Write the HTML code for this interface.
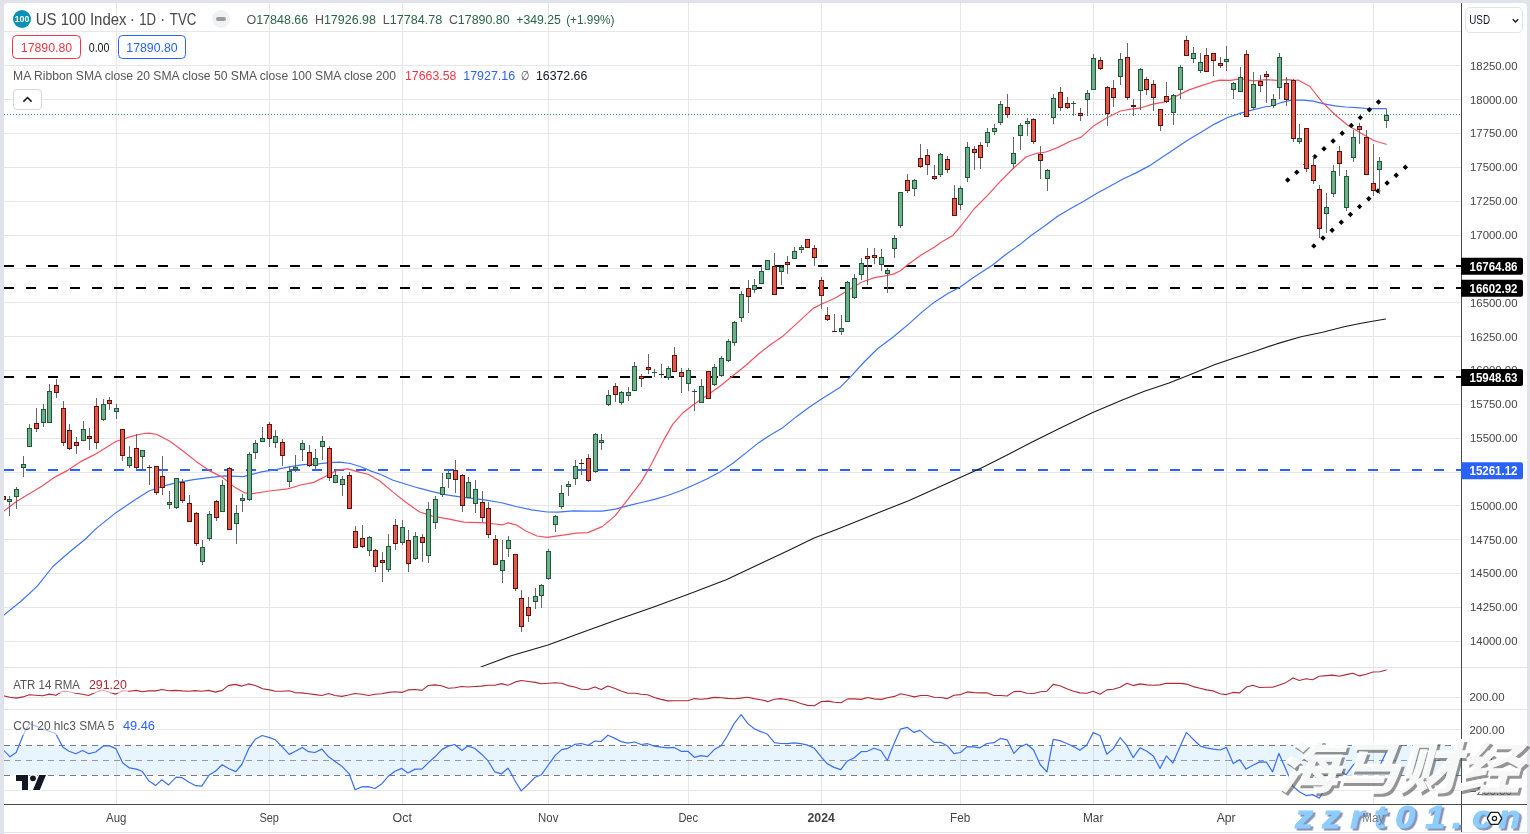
<!DOCTYPE html>
<html><head><meta charset="utf-8"><title>US 100 Index</title>
<style>
html,body{margin:0;padding:0}
body{width:1530px;height:834px;overflow:hidden;background:#e0e3eb;position:relative;font-family:"Liberation Sans","Noto Sans CJK SC",sans-serif}
#pane{position:absolute;left:4px;top:3px;width:1523px;height:829px;background:#fff;border-radius:4px 4px 0 0}
#pane2{position:absolute;left:4px;top:833px;width:1523px;height:1px;background:#fff}
.t{position:absolute;white-space:nowrap;line-height:1}
</style></head><body>
<div id="pane"></div><div id="pane2"></div>
<svg width="1530" height="834" viewBox="0 0 1530 834" style="position:absolute;left:0;top:0"><defs><clipPath id="cm"><rect x="4" y="3" width="1457" height="664"/></clipPath><clipPath id="ca"><rect x="4" y="668" width="1457" height="41"/></clipPath><clipPath id="cc"><rect x="4" y="710" width="1457" height="94"/></clipPath></defs><g stroke="#e7e7e7" stroke-width="1" shape-rendering="crispEdges"><line x1="116.5" y1="3" x2="116.5" y2="804"/><line x1="269.5" y1="3" x2="269.5" y2="804"/><line x1="402.5" y1="3" x2="402.5" y2="804"/><line x1="548.5" y1="3" x2="548.5" y2="804"/><line x1="688.5" y1="3" x2="688.5" y2="804"/><line x1="821.5" y1="3" x2="821.5" y2="804"/><line x1="960.5" y1="3" x2="960.5" y2="804"/><line x1="1093.5" y1="3" x2="1093.5" y2="804"/><line x1="1226.5" y1="3" x2="1226.5" y2="804"/><line x1="1373.5" y1="3" x2="1373.5" y2="804"/><line x1="4" y1="31.5" x2="1461" y2="31.5"/><line x1="4" y1="65.5" x2="1461" y2="65.5"/><line x1="4" y1="99.5" x2="1461" y2="99.5"/><line x1="4" y1="133.5" x2="1461" y2="133.5"/><line x1="4" y1="167.5" x2="1461" y2="167.5"/><line x1="4" y1="201.5" x2="1461" y2="201.5"/><line x1="4" y1="235.5" x2="1461" y2="235.5"/><line x1="4" y1="268.5" x2="1461" y2="268.5"/><line x1="4" y1="302.5" x2="1461" y2="302.5"/><line x1="4" y1="336.5" x2="1461" y2="336.5"/><line x1="4" y1="370.5" x2="1461" y2="370.5"/><line x1="4" y1="404.5" x2="1461" y2="404.5"/><line x1="4" y1="438.5" x2="1461" y2="438.5"/><line x1="4" y1="472.5" x2="1461" y2="472.5"/><line x1="4" y1="505.5" x2="1461" y2="505.5"/><line x1="4" y1="539.5" x2="1461" y2="539.5"/><line x1="4" y1="573.5" x2="1461" y2="573.5"/><line x1="4" y1="607.5" x2="1461" y2="607.5"/><line x1="4" y1="641.5" x2="1461" y2="641.5"/><line x1="4" y1="697.5" x2="1461" y2="697.5"/><line x1="4" y1="729.5" x2="1461" y2="729.5"/><line x1="4" y1="790.5" x2="1461" y2="790.5"/></g><rect x="4" y="745.5" width="1457" height="30" fill="#2196f3" fill-opacity="0.1"/><g stroke="#787b86" stroke-width="1" stroke-dasharray="6 5" shape-rendering="crispEdges"><line x1="4" y1="745.5" x2="1461" y2="745.5"/><line x1="4" y1="775.5" x2="1461" y2="775.5"/></g><line x1="4" y1="760.5" x2="1461" y2="760.5" stroke="#9598a1" stroke-width="1" stroke-dasharray="6 5" shape-rendering="crispEdges"/><g stroke="#e0e3eb" stroke-width="1" shape-rendering="crispEdges"><line x1="4" y1="667.5" x2="1527" y2="667.5"/><line x1="4" y1="709.5" x2="1527" y2="709.5"/></g><line x1="4" y1="114.5" x2="1461" y2="114.5" stroke="#3b8a5f" stroke-width="1" stroke-dasharray="1 2" shape-rendering="crispEdges"/><g stroke-width="2" stroke-dasharray="10 12" shape-rendering="crispEdges"><line x1="4" y1="266" x2="1461" y2="266" stroke="#000"/><line x1="4" y1="288" x2="1461" y2="288" stroke="#000"/><line x1="4" y1="377" x2="1461" y2="377" stroke="#000"/><line x1="4" y1="470" x2="1461" y2="470" stroke="#2962ff"/></g><g fill="none" stroke-linejoin="round" stroke-linecap="round"><path d="M481.0 666.9 L510.3 656.0 L548.0 645.0 L579.8 633.3 L616.4 620.1 L653.0 607.3 L689.6 593.7 L726.2 579.8 L762.8 562.6 L788.4 550.5 L814.1 538.1 L836.0 529.7 L872.6 515.0 L909.2 500.4 L945.8 483.9 L982.4 467.5 L1008.1 454.6 L1030.7 442.8 L1061.4 427.5 L1092.2 412.7 L1122.9 399.8 L1144.4 391.2 L1169.0 382.9 L1190.5 374.6 L1215.1 364.5 L1233.5 358.3 L1255.0 351.3 L1276.5 343.9 L1301.1 336.8 L1322.6 332.2 L1344.1 326.7 L1362.5 323.0 L1385.6 319.0" stroke="#1a1a1a" stroke-width="1.1" clip-path="url(#cm)"/><path d="M3.9 615.1 L21.6 600.8 L37.3 586.1 L52.9 566.5 L68.6 552.7 L84.3 540.0 L96.7 528.1 L116.3 512.4 L135.9 499.3 L149.0 491.0 L162.1 486.3 L177.8 482.4 L193.5 479.7 L209.2 477.6 L224.8 475.8 L243.1 476.6 L261.4 471.9 L277.1 469.3 L290.2 466.7 L303.3 464.6 L316.3 464.1 L329.4 462.7 L339.9 462.2 L350.3 463.5 L360.8 466.7 L371.2 471.1 L380.0 474.3 L393.1 480.3 L406.1 484.2 L419.2 488.2 L432.3 491.6 L448.0 495.2 L463.7 497.3 L484.6 499.9 L500.3 502.5 L515.9 506.5 L531.6 509.9 L547.3 512.0 L557.8 512.2 L573.5 510.9 L589.2 511.2 L602.2 511.2 L615.3 509.1 L628.4 505.7 L641.4 502.5 L654.5 499.4 L667.6 495.5 L680.7 490.8 L693.7 485.0 L706.8 479.0 L719.9 472.0 L732.9 463.3 L746.0 452.9 L759.1 442.4 L770.0 435.2 L783.1 427.4 L796.1 416.9 L809.2 407.3 L822.3 398.6 L840.6 386.9 L851.0 376.4 L864.1 362.0 L877.2 349.0 L892.9 337.2 L908.6 324.1 L921.6 312.4 L934.7 301.9 L947.8 293.5 L959.5 287.5 L972.7 278.0 L992.3 265.2 L1005.4 254.8 L1018.4 245.6 L1031.5 235.2 L1044.6 226.0 L1057.6 216.3 L1070.7 208.5 L1083.8 201.2 L1096.9 193.3 L1109.9 186.3 L1123.0 179.0 L1136.1 172.9 L1149.2 165.9 L1162.2 157.3 L1175.3 148.4 L1188.4 139.7 L1201.4 131.9 L1214.5 124.1 L1227.6 117.5 L1240.7 113.1 L1253.7 109.7 L1266.8 106.5 L1270.0 106.3 L1280.8 102.7 L1291.6 100.1 L1302.4 100.1 L1313.2 101.2 L1324.0 103.8 L1334.8 105.9 L1345.6 107.0 L1356.4 107.6 L1367.2 108.5 L1378.0 108.7 L1386.2 108.7" stroke="#3e73ff" stroke-width="1.2" clip-path="url(#cm)"/><path d="M3.9 511.1 L15.7 502.0 L28.8 494.1 L41.8 486.3 L54.9 477.1 L68.0 470.1 L81.0 461.4 L94.1 454.9 L104.6 448.4 L116.3 441.3 L130.7 436.6 L141.2 434.0 L149.0 433.2 L156.9 434.5 L169.9 441.3 L183.0 451.0 L196.1 461.4 L209.2 470.6 L222.2 477.1 L235.3 487.6 L244.4 492.8 L252.3 493.6 L269.3 491.0 L287.6 488.9 L300.7 485.0 L313.7 482.4 L326.8 475.8 L337.3 470.1 L347.7 468.8 L358.2 471.9 L368.6 474.5 L379.5 480.7 L393.1 492.1 L406.1 502.5 L419.2 511.7 L432.3 516.1 L448.0 518.8 L463.7 522.2 L484.6 522.9 L495.0 524.0 L502.9 524.8 L508.1 522.9 L515.9 524.8 L526.4 531.3 L536.9 536.0 L547.3 537.3 L563.0 535.2 L576.1 533.1 L587.8 532.6 L602.2 526.6 L615.3 515.6 L628.4 498.6 L641.4 481.6 L651.9 463.3 L662.4 442.4 L672.8 424.1 L683.3 412.4 L693.7 404.5 L706.8 395.4 L719.9 386.2 L732.9 375.8 L746.0 365.3 L759.1 353.5 L770.0 345.0 L783.1 335.9 L796.1 324.1 L813.1 308.4 L822.3 303.7 L835.4 298.0 L848.4 290.1 L861.5 282.3 L874.6 277.6 L885.0 275.8 L894.2 273.9 L900.7 270.5 L908.6 264.0 L921.6 254.8 L934.7 247.0 L940.0 243.0 L953.1 235.2 L960.9 226.0 L974.0 209.0 L987.1 195.9 L1000.1 181.6 L1013.2 168.5 L1026.3 156.7 L1036.7 153.3 L1045.9 152.0 L1057.6 147.6 L1070.7 141.0 L1081.2 137.1 L1094.2 125.4 L1107.3 117.5 L1120.4 111.0 L1130.8 109.2 L1141.3 107.8 L1151.8 104.4 L1164.8 101.8 L1175.3 96.6 L1188.4 90.1 L1201.4 85.6 L1211.9 82.2 L1219.7 80.1 L1230.2 80.4 L1240.7 78.8 L1253.7 80.9 L1266.8 79.6 L1277.3 80.4 L1287.7 79.6 L1295.6 80.4 L1298.1 80.0 L1309.9 86.5 L1321.8 101.6 L1334.8 114.5 L1347.7 125.3 L1360.7 132.9 L1373.6 140.5 L1386.2 144.3" stroke="#f4515f" stroke-width="1.2" clip-path="url(#cm)"/><path d="M4.3 696.0 L10.0 697.2 L16.2 698.1 L23.0 696.9 L29.3 694.8 L35.8 695.2 L42.6 695.7 L49.4 694.1 L55.8 695.2 L62.7 691.2 L69.0 691.8 L75.8 693.3 L82.6 694.3 L88.5 695.5 L95.4 692.4 L102.2 689.9 L109.0 692.1 L115.8 694.1 L122.6 690.7 L129.4 691.2 L136.2 690.4 L142.2 691.8 L149.0 690.9 L155.8 690.9 L161.8 689.5 L168.6 690.7 L175.4 690.4 L182.2 690.9 L189.0 691.2 L195.0 690.6 L201.8 691.2 L208.6 690.4 L215.4 692.1 L222.2 690.4 L228.2 685.6 L235.0 684.4 L241.8 686.1 L248.6 683.9 L255.2 685.5 L262.7 688.7 L269.5 689.9 L275.4 691.2 L282.2 691.2 L289.1 690.7 L295.0 692.6 L301.8 692.9 L308.6 693.8 L315.4 694.6 L321.9 695.5 L328.6 693.5 L335.0 695.5 L341.8 696.4 L348.6 695.0 L355.1 693.5 L361.9 694.3 L368.7 695.5 L375.0 694.3 L381.9 693.8 L388.7 692.4 L395.0 691.8 L401.8 692.4 L408.2 689.9 L415.1 689.5 L421.9 690.4 L428.2 685.5 L435.0 684.9 L441.4 685.8 L448.3 688.3 L455.1 687.8 L461.5 686.5 L468.2 687.0 L474.6 686.5 L481.5 686.1 L488.3 685.3 L495.1 685.3 L501.6 683.6 L507.9 685.3 L510.0 684.4 L515.4 681.9 L521.2 680.5 L528.7 681.5 L535.2 682.4 L541.5 683.8 L548.7 683.2 L555.1 682.7 L561.6 683.2 L567.9 685.6 L574.7 687.0 L581.2 689.2 L588.0 689.5 L594.8 687.0 L601.1 689.5 L607.9 686.1 L614.4 688.2 L621.2 690.9 L627.8 693.3 L634.6 693.3 L641.1 694.3 L647.6 694.8 L654.4 697.5 L661.2 699.4 L667.8 700.9 L674.3 700.8 L681.1 700.8 L687.9 700.8 L694.4 698.6 L701.0 699.2 L707.5 698.6 L714.3 697.4 L721.1 697.7 L727.6 698.4 L734.1 698.7 L740.7 698.1 L747.5 697.2 L754.0 698.6 L760.6 699.8 L765.0 700.6 L767.6 701.8 L774.4 699.2 L780.7 698.6 L787.5 699.8 L793.9 701.1 L800.8 703.5 L807.6 705.4 L814.4 705.7 L821.4 701.5 L828.0 701.1 L834.5 702.3 L841.1 702.7 L847.6 698.9 L854.4 698.9 L861.2 699.4 L867.7 697.5 L874.3 698.9 L881.1 699.4 L887.6 697.7 L894.4 696.4 L900.7 693.8 L907.5 695.2 L914.3 696.9 L920.8 695.5 L927.6 695.5 L934.1 697.2 L940.7 697.5 L947.4 698.6 L954.0 695.2 L960.8 694.6 L967.3 691.9 L974.1 692.6 L980.6 692.9 L987.2 692.9 L994.0 695.5 L1000.8 695.5 L1007.1 696.0 L1013.9 691.6 L1020.0 691.2 L1026.8 693.3 L1033.6 693.5 L1040.4 691.8 L1046.9 691.2 L1053.2 684.4 L1060.0 685.8 L1066.8 688.7 L1073.6 691.2 L1079.9 692.9 L1086.7 693.3 L1093.2 691.2 L1100.0 694.3 L1106.8 689.9 L1113.3 689.2 L1120.1 687.3 L1126.9 683.2 L1133.2 685.6 L1140.0 683.9 L1146.9 684.9 L1153.3 685.3 L1160.0 684.9 L1166.4 683.2 L1173.2 683.4 L1180.1 683.4 L1186.5 684.1 L1193.2 686.6 L1200.0 688.3 L1206.4 689.9 L1213.3 690.9 L1220.1 693.8 L1226.4 694.6 L1232.8 692.4 L1239.6 692.9 L1246.5 687.0 L1252.9 685.3 L1259.7 687.5 L1266.4 687.3 L1272.6 687.3 L1279.4 684.9 L1286.2 682.4 L1293.0 678.0 L1299.3 680.5 L1306.1 678.8 L1312.6 679.7 L1319.4 676.3 L1326.2 675.6 L1332.7 675.1 L1339.3 676.3 L1346.1 674.6 L1352.9 673.2 L1359.4 675.9 L1366.2 674.2 L1373.0 672.0 L1379.8 671.7 L1386.1 670.0" stroke="#b22833" stroke-width="1.1" clip-path="url(#ca)"/><path d="M4.3 750.8 L10.0 756.8 L16.2 752.5 L23.0 735.5 L29.3 723.6 L35.8 726.1 L42.6 728.7 L49.4 731.3 L55.8 733.8 L62.7 746.9 L69.0 751.2 L75.8 753.7 L82.6 750.5 L88.9 753.7 L95.7 752.0 L103.0 746.2 L109.0 745.6 L115.8 748.6 L122.6 762.8 L129.4 767.9 L136.2 769.1 L142.2 771.3 L149.0 781.1 L155.8 785.4 L161.8 779.8 L168.6 784.9 L176.2 777.2 L182.2 777.7 L189.0 782.3 L195.8 785.7 L201.8 786.1 L209.1 775.0 L215.4 771.3 L222.2 764.8 L229.0 768.7 L235.8 771.6 L241.8 764.5 L248.9 748.3 L255.2 739.3 L262.2 735.5 L269.5 737.6 L275.4 739.8 L282.2 746.9 L289.1 754.4 L295.4 751.2 L302.2 747.4 L308.6 751.7 L314.9 752.5 L321.9 749.1 L328.6 756.8 L335.0 761.4 L341.8 766.2 L349.2 773.8 L355.1 789.7 L361.9 786.9 L368.2 786.6 L375.0 788.5 L381.9 783.7 L388.7 775.9 L395.0 771.3 L401.8 768.4 L407.9 773.0 L415.1 769.1 L421.9 769.1 L428.2 762.8 L435.0 756.8 L441.8 749.6 L448.3 746.1 L454.7 744.5 L461.9 750.5 L467.8 746.1 L474.6 748.3 L481.5 754.2 L487.9 760.7 L494.7 771.8 L501.6 773.8 L507.9 768.2 L510.0 771.3 L515.4 781.5 L521.2 790.9 L528.7 783.7 L535.2 777.2 L541.5 774.7 L548.7 764.5 L555.1 755.6 L561.6 749.6 L567.9 748.3 L574.7 744.4 L581.2 743.5 L588.0 745.4 L594.8 741.1 L601.1 741.5 L607.9 735.2 L614.4 738.1 L621.2 741.6 L627.8 743.2 L634.6 742.0 L641.1 744.5 L647.6 743.7 L654.4 746.1 L661.2 747.1 L667.8 747.8 L674.3 747.4 L681.1 751.3 L687.9 751.3 L694.4 757.3 L701.0 755.6 L707.5 756.6 L714.3 749.6 L721.1 745.7 L727.6 735.5 L734.1 723.6 L741.1 714.6 L747.9 723.6 L754.3 728.7 L760.6 731.6 L765.0 733.0 L767.6 734.3 L774.4 742.7 L780.7 743.5 L787.5 743.7 L793.9 742.8 L800.8 743.7 L807.6 745.2 L814.4 748.3 L821.4 757.1 L827.1 763.6 L834.0 767.4 L840.8 769.6 L847.2 761.1 L853.9 758.0 L861.2 751.7 L867.2 751.3 L874.0 748.3 L881.1 750.8 L887.3 760.5 L893.9 744.0 L900.4 729.2 L907.2 727.3 L914.0 732.4 L919.9 730.4 L926.8 736.4 L933.9 742.3 L940.4 742.3 L947.2 745.7 L954.0 753.7 L960.5 752.5 L967.1 746.6 L973.6 746.9 L979.9 747.8 L986.9 743.5 L994.0 742.7 L1000.3 738.4 L1007.1 739.8 L1013.9 753.4 L1020.0 746.9 L1026.8 744.0 L1033.6 750.0 L1040.1 764.5 L1046.9 771.8 L1053.2 739.3 L1060.0 740.6 L1066.8 743.5 L1073.6 746.6 L1079.9 750.3 L1086.7 745.2 L1093.2 732.6 L1100.0 735.5 L1106.8 754.2 L1113.3 748.6 L1120.1 737.7 L1126.9 745.7 L1133.2 757.6 L1140.0 747.8 L1146.9 751.3 L1153.3 755.9 L1160.0 768.4 L1166.4 755.9 L1172.9 763.1 L1180.1 746.6 L1186.4 732.4 L1193.2 739.3 L1200.5 746.2 L1206.4 747.8 L1213.3 749.1 L1220.1 750.0 L1226.4 747.4 L1233.2 763.6 L1239.6 759.7 L1246.1 769.1 L1252.9 765.3 L1259.7 761.9 L1266.4 762.2 L1272.6 771.8 L1278.9 753.4 L1286.2 770.1 L1293.0 786.3 L1299.3 791.7 L1306.1 795.6 L1312.6 794.6 L1319.4 798.2 L1326.2 786.3 L1333.3 775.5 L1339.3 770.4 L1346.1 774.7 L1352.9 765.3 L1359.4 760.5 L1366.2 766.2 L1373.0 770.1 L1379.3 767.0 L1386.1 752.2" stroke="#3a6ff7" stroke-width="1.2" clip-path="url(#cc)"/></g><path d="M1285.0 180.0 L1287.7 177.3 L1290.4 180.0 L1287.7 182.7 ZM1294.1 172.2 L1296.8 169.5 L1299.5 172.2 L1296.8 174.9 ZM1303.2 164.4 L1305.9 161.7 L1308.6 164.4 L1305.9 167.1 ZM1312.2 156.6 L1314.9 153.9 L1317.6 156.6 L1314.9 159.3 ZM1321.3 148.8 L1324.0 146.1 L1326.7 148.8 L1324.0 151.5 ZM1330.4 141.0 L1333.1 138.3 L1335.8 141.0 L1333.1 143.7 ZM1339.5 133.2 L1342.2 130.5 L1344.9 133.2 L1342.2 135.9 ZM1348.6 125.4 L1351.3 122.7 L1354.0 125.4 L1351.3 128.1 ZM1357.6 117.6 L1360.3 114.9 L1363.0 117.6 L1360.3 120.3 ZM1366.7 109.8 L1369.4 107.1 L1372.1 109.8 L1369.4 112.5 ZM1375.8 102.0 L1378.5 99.3 L1381.2 102.0 L1378.5 104.7 ZM1311.1 245.9 L1313.8 243.2 L1316.5 245.9 L1313.8 248.6 ZM1320.3 238.0 L1323.0 235.3 L1325.7 238.0 L1323.0 240.7 ZM1329.4 230.2 L1332.1 227.5 L1334.8 230.2 L1332.1 232.9 ZM1338.6 222.3 L1341.3 219.6 L1344.0 222.3 L1341.3 225.0 ZM1347.7 214.5 L1350.4 211.8 L1353.1 214.5 L1350.4 217.2 ZM1356.9 206.6 L1359.6 203.9 L1362.3 206.6 L1359.6 209.3 ZM1366.1 198.7 L1368.8 196.0 L1371.5 198.7 L1368.8 201.4 ZM1375.2 190.9 L1377.9 188.2 L1380.6 190.9 L1377.9 193.6 ZM1384.4 183.0 L1387.1 180.3 L1389.8 183.0 L1387.1 185.7 ZM1393.5 175.2 L1396.2 172.5 L1398.9 175.2 L1396.2 177.9 ZM1402.7 167.3 L1405.4 164.6 L1408.1 167.3 L1405.4 170.0 Z" fill="#000"/><g clip-path="url(#cm)" shape-rendering="crispEdges"><rect x="3" y="496" width="1" height="4" fill="#666"/><rect x="1" y="496" width="5" height="4" fill="#5b130c"/><rect x="2" y="497" width="3" height="2" fill="#e2574a"/><rect x="9" y="496" width="1" height="20" fill="#666"/><rect x="7" y="499" width="5" height="3" fill="#1f5a36"/><rect x="8" y="500" width="3" height="1" fill="#6fae8d"/><rect x="16" y="487" width="1" height="22" fill="#666"/><rect x="14" y="489" width="5" height="8" fill="#1f5a36"/><rect x="15" y="490" width="3" height="6" fill="#6fae8d"/><rect x="23" y="456" width="1" height="21" fill="#666"/><rect x="21" y="464" width="5" height="4" fill="#1f5a36"/><rect x="22" y="465" width="3" height="2" fill="#6fae8d"/><rect x="29" y="424" width="1" height="23" fill="#666"/><rect x="27" y="428" width="5" height="19" fill="#1f5a36"/><rect x="28" y="429" width="3" height="17" fill="#6fae8d"/><rect x="36" y="408" width="1" height="24" fill="#666"/><rect x="34" y="423" width="5" height="6" fill="#5b130c"/><rect x="35" y="424" width="3" height="4" fill="#e2574a"/><rect x="43" y="404" width="1" height="23" fill="#666"/><rect x="41" y="409" width="5" height="14" fill="#1f5a36"/><rect x="42" y="410" width="3" height="12" fill="#6fae8d"/><rect x="49" y="384" width="1" height="39" fill="#666"/><rect x="47" y="391" width="5" height="32" fill="#1f5a36"/><rect x="48" y="392" width="3" height="30" fill="#6fae8d"/><rect x="56" y="379" width="1" height="19" fill="#666"/><rect x="54" y="385" width="5" height="8" fill="#5b130c"/><rect x="55" y="386" width="3" height="6" fill="#e2574a"/><rect x="63" y="401" width="1" height="45" fill="#666"/><rect x="61" y="408" width="5" height="35" fill="#5b130c"/><rect x="62" y="409" width="3" height="33" fill="#e2574a"/><rect x="69" y="424" width="1" height="26" fill="#666"/><rect x="67" y="430" width="5" height="19" fill="#5b130c"/><rect x="68" y="431" width="3" height="17" fill="#e2574a"/><rect x="76" y="437" width="1" height="17" fill="#666"/><rect x="74" y="442" width="5" height="4" fill="#5b130c"/><rect x="75" y="443" width="3" height="2" fill="#e2574a"/><rect x="83" y="421" width="1" height="20" fill="#666"/><rect x="81" y="429" width="5" height="12" fill="#1f5a36"/><rect x="82" y="430" width="3" height="10" fill="#6fae8d"/><rect x="89" y="428" width="1" height="22" fill="#666"/><rect x="87" y="436" width="5" height="3" fill="#5b130c"/><rect x="88" y="437" width="3" height="1" fill="#e2574a"/><rect x="96" y="398" width="1" height="51" fill="#666"/><rect x="94" y="406" width="5" height="37" fill="#5b130c"/><rect x="95" y="407" width="3" height="35" fill="#e2574a"/><rect x="103" y="399" width="1" height="22" fill="#666"/><rect x="101" y="404" width="5" height="16" fill="#1f5a36"/><rect x="102" y="405" width="3" height="14" fill="#6fae8d"/><rect x="109" y="397" width="1" height="13" fill="#666"/><rect x="107" y="400" width="5" height="4" fill="#5b130c"/><rect x="108" y="401" width="3" height="2" fill="#e2574a"/><rect x="116" y="404" width="1" height="15" fill="#666"/><rect x="114" y="408" width="5" height="4" fill="#1f5a36"/><rect x="115" y="409" width="3" height="2" fill="#6fae8d"/><rect x="122" y="429" width="1" height="32" fill="#666"/><rect x="120" y="429" width="5" height="27" fill="#5b130c"/><rect x="121" y="430" width="3" height="25" fill="#e2574a"/><rect x="129" y="446" width="1" height="22" fill="#666"/><rect x="127" y="457" width="5" height="9" fill="#1f5a36"/><rect x="128" y="458" width="3" height="7" fill="#6fae8d"/><rect x="136" y="434" width="1" height="35" fill="#666"/><rect x="134" y="448" width="5" height="20" fill="#5b130c"/><rect x="135" y="449" width="3" height="18" fill="#e2574a"/><rect x="142" y="450" width="1" height="19" fill="#666"/><rect x="140" y="450" width="5" height="7" fill="#1f5a36"/><rect x="141" y="451" width="3" height="5" fill="#6fae8d"/><rect x="149" y="465" width="1" height="20" fill="#666"/><rect x="147" y="467" width="5" height="1" fill="#5b130c"/><rect x="156" y="466" width="1" height="29" fill="#666"/><rect x="154" y="466" width="5" height="27" fill="#5b130c"/><rect x="155" y="467" width="3" height="25" fill="#e2574a"/><rect x="162" y="456" width="1" height="39" fill="#666"/><rect x="160" y="476" width="5" height="12" fill="#5b130c"/><rect x="161" y="477" width="3" height="10" fill="#e2574a"/><rect x="169" y="491" width="1" height="18" fill="#666"/><rect x="167" y="502" width="5" height="3" fill="#1f5a36"/><rect x="168" y="503" width="3" height="1" fill="#6fae8d"/><rect x="176" y="478" width="1" height="31" fill="#666"/><rect x="174" y="478" width="5" height="30" fill="#1f5a36"/><rect x="175" y="479" width="3" height="28" fill="#6fae8d"/><rect x="182" y="479" width="1" height="24" fill="#666"/><rect x="180" y="482" width="5" height="19" fill="#5b130c"/><rect x="181" y="483" width="3" height="17" fill="#e2574a"/><rect x="189" y="495" width="1" height="27" fill="#666"/><rect x="187" y="503" width="5" height="19" fill="#5b130c"/><rect x="188" y="504" width="3" height="17" fill="#e2574a"/><rect x="196" y="512" width="1" height="34" fill="#666"/><rect x="194" y="513" width="5" height="31" fill="#5b130c"/><rect x="195" y="514" width="3" height="29" fill="#e2574a"/><rect x="202" y="540" width="1" height="25" fill="#666"/><rect x="200" y="547" width="5" height="15" fill="#1f5a36"/><rect x="201" y="548" width="3" height="13" fill="#6fae8d"/><rect x="209" y="511" width="1" height="30" fill="#666"/><rect x="207" y="514" width="5" height="25" fill="#1f5a36"/><rect x="208" y="515" width="3" height="23" fill="#6fae8d"/><rect x="216" y="500" width="1" height="21" fill="#666"/><rect x="214" y="501" width="5" height="17" fill="#5b130c"/><rect x="215" y="502" width="3" height="15" fill="#e2574a"/><rect x="222" y="480" width="1" height="32" fill="#666"/><rect x="220" y="485" width="5" height="27" fill="#1f5a36"/><rect x="221" y="486" width="3" height="25" fill="#6fae8d"/><rect x="229" y="467" width="1" height="63" fill="#666"/><rect x="227" y="468" width="5" height="62" fill="#5b130c"/><rect x="228" y="469" width="3" height="60" fill="#e2574a"/><rect x="236" y="505" width="1" height="39" fill="#666"/><rect x="234" y="513" width="5" height="11" fill="#1f5a36"/><rect x="235" y="514" width="3" height="9" fill="#6fae8d"/><rect x="242" y="494" width="1" height="18" fill="#666"/><rect x="240" y="498" width="5" height="3" fill="#1f5a36"/><rect x="241" y="499" width="3" height="1" fill="#6fae8d"/><rect x="249" y="452" width="1" height="49" fill="#666"/><rect x="247" y="454" width="5" height="46" fill="#1f5a36"/><rect x="248" y="455" width="3" height="44" fill="#6fae8d"/><rect x="255" y="440" width="1" height="19" fill="#666"/><rect x="253" y="443" width="5" height="10" fill="#1f5a36"/><rect x="254" y="444" width="3" height="8" fill="#6fae8d"/><rect x="262" y="427" width="1" height="15" fill="#666"/><rect x="260" y="438" width="5" height="4" fill="#1f5a36"/><rect x="261" y="439" width="3" height="2" fill="#6fae8d"/><rect x="269" y="422" width="1" height="25" fill="#666"/><rect x="267" y="424" width="5" height="15" fill="#5b130c"/><rect x="268" y="425" width="3" height="13" fill="#e2574a"/><rect x="275" y="430" width="1" height="18" fill="#666"/><rect x="273" y="436" width="5" height="7" fill="#1f5a36"/><rect x="274" y="437" width="3" height="5" fill="#6fae8d"/><rect x="282" y="439" width="1" height="27" fill="#666"/><rect x="280" y="442" width="5" height="14" fill="#5b130c"/><rect x="281" y="443" width="3" height="12" fill="#e2574a"/><rect x="289" y="466" width="1" height="21" fill="#666"/><rect x="287" y="471" width="5" height="11" fill="#1f5a36"/><rect x="288" y="472" width="3" height="9" fill="#6fae8d"/><rect x="295" y="455" width="1" height="17" fill="#666"/><rect x="293" y="467" width="5" height="3" fill="#1f5a36"/><rect x="294" y="468" width="3" height="1" fill="#6fae8d"/><rect x="302" y="440" width="1" height="21" fill="#666"/><rect x="300" y="443" width="5" height="7" fill="#1f5a36"/><rect x="301" y="444" width="3" height="5" fill="#6fae8d"/><rect x="309" y="445" width="1" height="22" fill="#666"/><rect x="307" y="452" width="5" height="14" fill="#5b130c"/><rect x="308" y="453" width="3" height="12" fill="#e2574a"/><rect x="315" y="449" width="1" height="21" fill="#666"/><rect x="313" y="458" width="5" height="8" fill="#1f5a36"/><rect x="314" y="459" width="3" height="6" fill="#6fae8d"/><rect x="322" y="436" width="1" height="24" fill="#666"/><rect x="320" y="441" width="5" height="6" fill="#1f5a36"/><rect x="321" y="442" width="3" height="4" fill="#6fae8d"/><rect x="329" y="446" width="1" height="35" fill="#666"/><rect x="327" y="448" width="5" height="30" fill="#5b130c"/><rect x="328" y="449" width="3" height="28" fill="#e2574a"/><rect x="335" y="470" width="1" height="13" fill="#666"/><rect x="333" y="475" width="5" height="8" fill="#1f5a36"/><rect x="334" y="476" width="3" height="6" fill="#6fae8d"/><rect x="342" y="476" width="1" height="20" fill="#666"/><rect x="340" y="479" width="5" height="6" fill="#1f5a36"/><rect x="341" y="480" width="3" height="4" fill="#6fae8d"/><rect x="349" y="472" width="1" height="37" fill="#666"/><rect x="347" y="475" width="5" height="34" fill="#5b130c"/><rect x="348" y="476" width="3" height="32" fill="#e2574a"/><rect x="355" y="526" width="1" height="22" fill="#666"/><rect x="353" y="531" width="5" height="17" fill="#5b130c"/><rect x="354" y="532" width="3" height="15" fill="#e2574a"/><rect x="362" y="525" width="1" height="23" fill="#666"/><rect x="360" y="538" width="5" height="9" fill="#5b130c"/><rect x="361" y="539" width="3" height="7" fill="#e2574a"/><rect x="369" y="536" width="1" height="20" fill="#666"/><rect x="367" y="537" width="5" height="14" fill="#1f5a36"/><rect x="368" y="538" width="3" height="12" fill="#6fae8d"/><rect x="375" y="549" width="1" height="23" fill="#666"/><rect x="373" y="550" width="5" height="17" fill="#5b130c"/><rect x="374" y="551" width="3" height="15" fill="#e2574a"/><rect x="382" y="552" width="1" height="30" fill="#666"/><rect x="380" y="560" width="5" height="3" fill="#5b130c"/><rect x="381" y="561" width="3" height="1" fill="#e2574a"/><rect x="388" y="534" width="1" height="38" fill="#666"/><rect x="386" y="546" width="5" height="24" fill="#1f5a36"/><rect x="387" y="547" width="3" height="22" fill="#6fae8d"/><rect x="395" y="519" width="1" height="31" fill="#666"/><rect x="393" y="525" width="5" height="19" fill="#5b130c"/><rect x="394" y="526" width="3" height="17" fill="#e2574a"/><rect x="402" y="520" width="1" height="25" fill="#666"/><rect x="400" y="527" width="5" height="16" fill="#1f5a36"/><rect x="401" y="528" width="3" height="14" fill="#6fae8d"/><rect x="408" y="530" width="1" height="42" fill="#666"/><rect x="406" y="540" width="5" height="24" fill="#5b130c"/><rect x="407" y="541" width="3" height="22" fill="#e2574a"/><rect x="415" y="532" width="1" height="28" fill="#666"/><rect x="413" y="536" width="5" height="23" fill="#1f5a36"/><rect x="414" y="537" width="3" height="21" fill="#6fae8d"/><rect x="422" y="534" width="1" height="28" fill="#666"/><rect x="420" y="537" width="5" height="6" fill="#5b130c"/><rect x="421" y="538" width="3" height="4" fill="#e2574a"/><rect x="428" y="502" width="1" height="61" fill="#666"/><rect x="426" y="509" width="5" height="47" fill="#1f5a36"/><rect x="427" y="510" width="3" height="45" fill="#6fae8d"/><rect x="435" y="496" width="1" height="33" fill="#666"/><rect x="433" y="499" width="5" height="24" fill="#1f5a36"/><rect x="434" y="500" width="3" height="22" fill="#6fae8d"/><rect x="442" y="473" width="1" height="24" fill="#666"/><rect x="440" y="487" width="5" height="8" fill="#1f5a36"/><rect x="441" y="488" width="3" height="6" fill="#6fae8d"/><rect x="448" y="471" width="1" height="17" fill="#666"/><rect x="446" y="473" width="5" height="6" fill="#1f5a36"/><rect x="447" y="474" width="3" height="4" fill="#6fae8d"/><rect x="455" y="460" width="1" height="33" fill="#666"/><rect x="453" y="470" width="5" height="10" fill="#5b130c"/><rect x="454" y="471" width="3" height="8" fill="#e2574a"/><rect x="462" y="474" width="1" height="38" fill="#666"/><rect x="460" y="475" width="5" height="31" fill="#5b130c"/><rect x="461" y="476" width="3" height="29" fill="#e2574a"/><rect x="468" y="477" width="1" height="21" fill="#666"/><rect x="466" y="482" width="5" height="16" fill="#1f5a36"/><rect x="467" y="483" width="3" height="14" fill="#6fae8d"/><rect x="475" y="480" width="1" height="33" fill="#666"/><rect x="473" y="489" width="5" height="15" fill="#1f5a36"/><rect x="474" y="490" width="3" height="13" fill="#6fae8d"/><rect x="482" y="491" width="1" height="31" fill="#666"/><rect x="480" y="502" width="5" height="16" fill="#5b130c"/><rect x="481" y="503" width="3" height="14" fill="#e2574a"/><rect x="488" y="502" width="1" height="36" fill="#666"/><rect x="486" y="508" width="5" height="27" fill="#5b130c"/><rect x="487" y="509" width="3" height="25" fill="#e2574a"/><rect x="495" y="535" width="1" height="30" fill="#666"/><rect x="493" y="539" width="5" height="26" fill="#5b130c"/><rect x="494" y="540" width="3" height="24" fill="#e2574a"/><rect x="502" y="540" width="1" height="43" fill="#666"/><rect x="500" y="560" width="5" height="11" fill="#1f5a36"/><rect x="501" y="561" width="3" height="9" fill="#6fae8d"/><rect x="508" y="536" width="1" height="21" fill="#666"/><rect x="506" y="540" width="5" height="9" fill="#1f5a36"/><rect x="507" y="541" width="3" height="7" fill="#6fae8d"/><rect x="515" y="554" width="1" height="37" fill="#666"/><rect x="513" y="554" width="5" height="35" fill="#5b130c"/><rect x="514" y="555" width="3" height="33" fill="#e2574a"/><rect x="521" y="590" width="1" height="42" fill="#666"/><rect x="519" y="598" width="5" height="29" fill="#5b130c"/><rect x="520" y="599" width="3" height="27" fill="#e2574a"/><rect x="528" y="597" width="1" height="25" fill="#666"/><rect x="526" y="607" width="5" height="9" fill="#5b130c"/><rect x="527" y="608" width="3" height="7" fill="#e2574a"/><rect x="535" y="588" width="1" height="21" fill="#666"/><rect x="533" y="596" width="5" height="6" fill="#1f5a36"/><rect x="534" y="597" width="3" height="4" fill="#6fae8d"/><rect x="541" y="584" width="1" height="24" fill="#666"/><rect x="539" y="585" width="5" height="11" fill="#1f5a36"/><rect x="540" y="586" width="3" height="9" fill="#6fae8d"/><rect x="548" y="549" width="1" height="31" fill="#666"/><rect x="546" y="551" width="5" height="28" fill="#1f5a36"/><rect x="547" y="552" width="3" height="26" fill="#6fae8d"/><rect x="555" y="515" width="1" height="17" fill="#666"/><rect x="553" y="516" width="5" height="9" fill="#1f5a36"/><rect x="554" y="517" width="3" height="7" fill="#6fae8d"/><rect x="561" y="485" width="1" height="24" fill="#666"/><rect x="559" y="493" width="5" height="14" fill="#1f5a36"/><rect x="560" y="494" width="3" height="12" fill="#6fae8d"/><rect x="568" y="481" width="1" height="15" fill="#666"/><rect x="566" y="484" width="5" height="3" fill="#1f5a36"/><rect x="567" y="485" width="3" height="1" fill="#6fae8d"/><rect x="575" y="460" width="1" height="25" fill="#666"/><rect x="573" y="466" width="5" height="13" fill="#1f5a36"/><rect x="574" y="467" width="3" height="11" fill="#6fae8d"/><rect x="581" y="459" width="1" height="16" fill="#666"/><rect x="579" y="463" width="5" height="1" fill="#5b130c"/><rect x="588" y="454" width="1" height="28" fill="#666"/><rect x="586" y="458" width="5" height="23" fill="#5b130c"/><rect x="587" y="459" width="3" height="21" fill="#e2574a"/><rect x="595" y="433" width="1" height="40" fill="#666"/><rect x="593" y="434" width="5" height="38" fill="#1f5a36"/><rect x="594" y="435" width="3" height="36" fill="#6fae8d"/><rect x="601" y="434" width="1" height="16" fill="#666"/><rect x="599" y="440" width="5" height="3" fill="#1f5a36"/><rect x="600" y="441" width="3" height="1" fill="#6fae8d"/><rect x="608" y="390" width="1" height="16" fill="#666"/><rect x="606" y="395" width="5" height="10" fill="#1f5a36"/><rect x="607" y="396" width="3" height="8" fill="#6fae8d"/><rect x="615" y="383" width="1" height="19" fill="#666"/><rect x="613" y="386" width="5" height="9" fill="#5b130c"/><rect x="614" y="387" width="3" height="7" fill="#e2574a"/><rect x="621" y="391" width="1" height="14" fill="#666"/><rect x="619" y="392" width="5" height="11" fill="#1f5a36"/><rect x="620" y="393" width="3" height="9" fill="#6fae8d"/><rect x="628" y="387" width="1" height="14" fill="#666"/><rect x="626" y="392" width="5" height="4" fill="#1f5a36"/><rect x="627" y="393" width="3" height="2" fill="#6fae8d"/><rect x="634" y="362" width="1" height="29" fill="#666"/><rect x="632" y="366" width="5" height="25" fill="#1f5a36"/><rect x="633" y="367" width="3" height="23" fill="#6fae8d"/><rect x="641" y="374" width="1" height="13" fill="#666"/><rect x="639" y="376" width="5" height="3" fill="#5b130c"/><rect x="640" y="377" width="3" height="1" fill="#e2574a"/><rect x="648" y="354" width="1" height="20" fill="#666"/><rect x="646" y="367" width="5" height="3" fill="#5b130c"/><rect x="647" y="368" width="3" height="1" fill="#e2574a"/><rect x="654" y="369" width="1" height="8" fill="#666"/><rect x="652" y="372" width="5" height="1" fill="#1f5a36"/><rect x="661" y="364" width="1" height="14" fill="#666"/><rect x="659" y="374" width="5" height="1" fill="#5b130c"/><rect x="668" y="366" width="1" height="14" fill="#666"/><rect x="666" y="368" width="5" height="10" fill="#1f5a36"/><rect x="667" y="369" width="3" height="8" fill="#6fae8d"/><rect x="674" y="347" width="1" height="25" fill="#666"/><rect x="672" y="355" width="5" height="17" fill="#5b130c"/><rect x="673" y="356" width="3" height="15" fill="#e2574a"/><rect x="681" y="368" width="1" height="25" fill="#666"/><rect x="679" y="372" width="5" height="5" fill="#5b130c"/><rect x="680" y="373" width="3" height="3" fill="#e2574a"/><rect x="688" y="368" width="1" height="23" fill="#666"/><rect x="686" y="370" width="5" height="14" fill="#1f5a36"/><rect x="687" y="371" width="3" height="12" fill="#6fae8d"/><rect x="694" y="389" width="1" height="22" fill="#666"/><rect x="692" y="391" width="5" height="1" fill="#1f5a36"/><rect x="701" y="379" width="1" height="24" fill="#666"/><rect x="699" y="386" width="5" height="17" fill="#1f5a36"/><rect x="700" y="387" width="3" height="15" fill="#6fae8d"/><rect x="708" y="371" width="1" height="28" fill="#666"/><rect x="706" y="371" width="5" height="28" fill="#5b130c"/><rect x="707" y="372" width="3" height="26" fill="#e2574a"/><rect x="714" y="364" width="1" height="22" fill="#666"/><rect x="712" y="367" width="5" height="18" fill="#1f5a36"/><rect x="713" y="368" width="3" height="16" fill="#6fae8d"/><rect x="721" y="356" width="1" height="21" fill="#666"/><rect x="719" y="358" width="5" height="18" fill="#1f5a36"/><rect x="720" y="359" width="3" height="16" fill="#6fae8d"/><rect x="728" y="339" width="1" height="23" fill="#666"/><rect x="726" y="341" width="5" height="20" fill="#1f5a36"/><rect x="727" y="342" width="3" height="18" fill="#6fae8d"/><rect x="734" y="321" width="1" height="25" fill="#666"/><rect x="732" y="322" width="5" height="21" fill="#1f5a36"/><rect x="733" y="323" width="3" height="19" fill="#6fae8d"/><rect x="741" y="291" width="1" height="31" fill="#666"/><rect x="739" y="294" width="5" height="24" fill="#1f5a36"/><rect x="740" y="295" width="3" height="22" fill="#6fae8d"/><rect x="748" y="280" width="1" height="33" fill="#666"/><rect x="746" y="288" width="5" height="9" fill="#5b130c"/><rect x="747" y="289" width="3" height="7" fill="#e2574a"/><rect x="754" y="279" width="1" height="14" fill="#666"/><rect x="752" y="285" width="5" height="5" fill="#1f5a36"/><rect x="753" y="286" width="3" height="3" fill="#6fae8d"/><rect x="761" y="266" width="1" height="18" fill="#666"/><rect x="759" y="271" width="5" height="13" fill="#1f5a36"/><rect x="760" y="272" width="3" height="11" fill="#6fae8d"/><rect x="767" y="260" width="1" height="10" fill="#666"/><rect x="765" y="260" width="5" height="10" fill="#1f5a36"/><rect x="766" y="261" width="3" height="8" fill="#6fae8d"/><rect x="774" y="253" width="1" height="42" fill="#666"/><rect x="772" y="266" width="5" height="29" fill="#5b130c"/><rect x="773" y="267" width="3" height="27" fill="#e2574a"/><rect x="781" y="266" width="1" height="19" fill="#666"/><rect x="779" y="267" width="5" height="5" fill="#1f5a36"/><rect x="780" y="268" width="3" height="3" fill="#6fae8d"/><rect x="787" y="256" width="1" height="18" fill="#666"/><rect x="785" y="262" width="5" height="3" fill="#5b130c"/><rect x="786" y="263" width="3" height="1" fill="#e2574a"/><rect x="794" y="247" width="1" height="12" fill="#666"/><rect x="792" y="251" width="5" height="8" fill="#1f5a36"/><rect x="793" y="252" width="3" height="6" fill="#6fae8d"/><rect x="801" y="245" width="1" height="8" fill="#666"/><rect x="799" y="247" width="5" height="3" fill="#1f5a36"/><rect x="800" y="248" width="3" height="1" fill="#6fae8d"/><rect x="807" y="239" width="1" height="9" fill="#666"/><rect x="805" y="239" width="5" height="9" fill="#5b130c"/><rect x="806" y="240" width="3" height="7" fill="#e2574a"/><rect x="814" y="245" width="1" height="21" fill="#666"/><rect x="812" y="248" width="5" height="10" fill="#5b130c"/><rect x="813" y="249" width="3" height="8" fill="#e2574a"/><rect x="821" y="277" width="1" height="32" fill="#666"/><rect x="819" y="280" width="5" height="16" fill="#5b130c"/><rect x="820" y="281" width="3" height="14" fill="#e2574a"/><rect x="827" y="307" width="1" height="14" fill="#666"/><rect x="825" y="315" width="5" height="5" fill="#5b130c"/><rect x="826" y="316" width="3" height="3" fill="#e2574a"/><rect x="834" y="314" width="1" height="18" fill="#666"/><rect x="832" y="331" width="5" height="1" fill="#5b130c"/><rect x="841" y="315" width="1" height="20" fill="#666"/><rect x="839" y="328" width="5" height="4" fill="#1f5a36"/><rect x="840" y="329" width="3" height="2" fill="#6fae8d"/><rect x="847" y="281" width="1" height="41" fill="#666"/><rect x="845" y="282" width="5" height="40" fill="#1f5a36"/><rect x="846" y="283" width="3" height="38" fill="#6fae8d"/><rect x="854" y="274" width="1" height="25" fill="#666"/><rect x="852" y="278" width="5" height="20" fill="#1f5a36"/><rect x="853" y="279" width="3" height="18" fill="#6fae8d"/><rect x="861" y="258" width="1" height="22" fill="#666"/><rect x="859" y="263" width="5" height="12" fill="#1f5a36"/><rect x="860" y="264" width="3" height="10" fill="#6fae8d"/><rect x="867" y="248" width="1" height="37" fill="#666"/><rect x="865" y="256" width="5" height="3" fill="#5b130c"/><rect x="866" y="257" width="3" height="1" fill="#e2574a"/><rect x="874" y="248" width="1" height="16" fill="#666"/><rect x="872" y="255" width="5" height="3" fill="#5b130c"/><rect x="873" y="256" width="3" height="1" fill="#e2574a"/><rect x="881" y="249" width="1" height="22" fill="#666"/><rect x="879" y="257" width="5" height="8" fill="#1f5a36"/><rect x="880" y="258" width="3" height="6" fill="#6fae8d"/><rect x="887" y="268" width="1" height="25" fill="#666"/><rect x="885" y="270" width="5" height="4" fill="#1f5a36"/><rect x="886" y="271" width="3" height="2" fill="#6fae8d"/><rect x="894" y="235" width="1" height="23" fill="#666"/><rect x="892" y="238" width="5" height="11" fill="#1f5a36"/><rect x="893" y="239" width="3" height="9" fill="#6fae8d"/><rect x="900" y="192" width="1" height="36" fill="#666"/><rect x="898" y="192" width="5" height="34" fill="#1f5a36"/><rect x="899" y="193" width="3" height="32" fill="#6fae8d"/><rect x="907" y="174" width="1" height="19" fill="#666"/><rect x="905" y="180" width="5" height="11" fill="#5b130c"/><rect x="906" y="181" width="3" height="9" fill="#e2574a"/><rect x="914" y="179" width="1" height="17" fill="#666"/><rect x="912" y="180" width="5" height="9" fill="#1f5a36"/><rect x="913" y="181" width="3" height="7" fill="#6fae8d"/><rect x="920" y="144" width="1" height="24" fill="#666"/><rect x="918" y="158" width="5" height="9" fill="#5b130c"/><rect x="919" y="159" width="3" height="7" fill="#e2574a"/><rect x="927" y="149" width="1" height="26" fill="#666"/><rect x="925" y="155" width="5" height="10" fill="#5b130c"/><rect x="926" y="156" width="3" height="8" fill="#e2574a"/><rect x="934" y="165" width="1" height="15" fill="#666"/><rect x="932" y="176" width="5" height="3" fill="#5b130c"/><rect x="933" y="177" width="3" height="1" fill="#e2574a"/><rect x="940" y="153" width="1" height="24" fill="#666"/><rect x="938" y="154" width="5" height="21" fill="#1f5a36"/><rect x="939" y="155" width="3" height="19" fill="#6fae8d"/><rect x="947" y="156" width="1" height="17" fill="#666"/><rect x="945" y="159" width="5" height="11" fill="#5b130c"/><rect x="946" y="160" width="3" height="9" fill="#e2574a"/><rect x="954" y="185" width="1" height="31" fill="#666"/><rect x="952" y="198" width="5" height="18" fill="#5b130c"/><rect x="953" y="199" width="3" height="16" fill="#e2574a"/><rect x="960" y="186" width="1" height="24" fill="#666"/><rect x="958" y="188" width="5" height="17" fill="#1f5a36"/><rect x="959" y="189" width="3" height="15" fill="#6fae8d"/><rect x="967" y="142" width="1" height="40" fill="#666"/><rect x="965" y="147" width="5" height="31" fill="#1f5a36"/><rect x="966" y="148" width="3" height="29" fill="#6fae8d"/><rect x="974" y="146" width="1" height="24" fill="#666"/><rect x="972" y="149" width="5" height="4" fill="#5b130c"/><rect x="973" y="150" width="3" height="2" fill="#e2574a"/><rect x="980" y="142" width="1" height="27" fill="#666"/><rect x="978" y="145" width="5" height="13" fill="#5b130c"/><rect x="979" y="146" width="3" height="11" fill="#e2574a"/><rect x="987" y="128" width="1" height="19" fill="#666"/><rect x="985" y="132" width="5" height="11" fill="#1f5a36"/><rect x="986" y="133" width="3" height="9" fill="#6fae8d"/><rect x="994" y="124" width="1" height="11" fill="#666"/><rect x="992" y="128" width="5" height="4" fill="#1f5a36"/><rect x="993" y="129" width="3" height="2" fill="#6fae8d"/><rect x="1000" y="101" width="1" height="24" fill="#666"/><rect x="998" y="104" width="5" height="19" fill="#1f5a36"/><rect x="999" y="105" width="3" height="17" fill="#6fae8d"/><rect x="1007" y="94" width="1" height="24" fill="#666"/><rect x="1005" y="107" width="5" height="8" fill="#5b130c"/><rect x="1006" y="108" width="3" height="6" fill="#e2574a"/><rect x="1013" y="137" width="1" height="32" fill="#666"/><rect x="1011" y="153" width="5" height="11" fill="#1f5a36"/><rect x="1012" y="154" width="3" height="9" fill="#6fae8d"/><rect x="1020" y="123" width="1" height="27" fill="#666"/><rect x="1018" y="125" width="5" height="11" fill="#1f5a36"/><rect x="1019" y="126" width="3" height="9" fill="#6fae8d"/><rect x="1027" y="118" width="1" height="18" fill="#666"/><rect x="1025" y="121" width="5" height="3" fill="#1f5a36"/><rect x="1026" y="122" width="3" height="1" fill="#6fae8d"/><rect x="1033" y="118" width="1" height="26" fill="#666"/><rect x="1031" y="119" width="5" height="23" fill="#5b130c"/><rect x="1032" y="120" width="3" height="21" fill="#e2574a"/><rect x="1040" y="146" width="1" height="33" fill="#666"/><rect x="1038" y="154" width="5" height="7" fill="#5b130c"/><rect x="1039" y="155" width="3" height="5" fill="#e2574a"/><rect x="1047" y="169" width="1" height="22" fill="#666"/><rect x="1045" y="170" width="5" height="9" fill="#1f5a36"/><rect x="1046" y="171" width="3" height="7" fill="#6fae8d"/><rect x="1053" y="94" width="1" height="30" fill="#666"/><rect x="1051" y="98" width="5" height="20" fill="#1f5a36"/><rect x="1052" y="99" width="3" height="18" fill="#6fae8d"/><rect x="1060" y="87" width="1" height="24" fill="#666"/><rect x="1058" y="92" width="5" height="16" fill="#5b130c"/><rect x="1059" y="93" width="3" height="14" fill="#e2574a"/><rect x="1067" y="97" width="1" height="12" fill="#666"/><rect x="1065" y="103" width="5" height="5" fill="#5b130c"/><rect x="1066" y="104" width="3" height="3" fill="#e2574a"/><rect x="1073" y="101" width="1" height="15" fill="#666"/><rect x="1071" y="103" width="5" height="1" fill="#1f5a36"/><rect x="1080" y="108" width="1" height="13" fill="#666"/><rect x="1078" y="113" width="5" height="3" fill="#5b130c"/><rect x="1079" y="114" width="3" height="1" fill="#e2574a"/><rect x="1087" y="90" width="1" height="26" fill="#666"/><rect x="1085" y="93" width="5" height="7" fill="#1f5a36"/><rect x="1086" y="94" width="3" height="5" fill="#6fae8d"/><rect x="1093" y="54" width="1" height="36" fill="#666"/><rect x="1091" y="58" width="5" height="32" fill="#1f5a36"/><rect x="1092" y="59" width="3" height="30" fill="#6fae8d"/><rect x="1100" y="57" width="1" height="13" fill="#666"/><rect x="1098" y="60" width="5" height="9" fill="#5b130c"/><rect x="1099" y="61" width="3" height="7" fill="#e2574a"/><rect x="1107" y="86" width="1" height="40" fill="#666"/><rect x="1105" y="87" width="5" height="27" fill="#5b130c"/><rect x="1106" y="88" width="3" height="25" fill="#e2574a"/><rect x="1113" y="80" width="1" height="27" fill="#666"/><rect x="1111" y="88" width="5" height="10" fill="#5b130c"/><rect x="1112" y="89" width="3" height="8" fill="#e2574a"/><rect x="1120" y="53" width="1" height="32" fill="#666"/><rect x="1118" y="59" width="5" height="18" fill="#1f5a36"/><rect x="1119" y="60" width="3" height="16" fill="#6fae8d"/><rect x="1127" y="43" width="1" height="57" fill="#666"/><rect x="1125" y="57" width="5" height="41" fill="#5b130c"/><rect x="1126" y="58" width="3" height="39" fill="#e2574a"/><rect x="1133" y="99" width="1" height="17" fill="#666"/><rect x="1131" y="105" width="5" height="2" fill="#5b130c"/><rect x="1140" y="68" width="1" height="42" fill="#666"/><rect x="1138" y="69" width="5" height="22" fill="#1f5a36"/><rect x="1139" y="70" width="3" height="20" fill="#6fae8d"/><rect x="1146" y="77" width="1" height="18" fill="#666"/><rect x="1144" y="79" width="5" height="11" fill="#5b130c"/><rect x="1145" y="80" width="3" height="9" fill="#e2574a"/><rect x="1153" y="80" width="1" height="31" fill="#666"/><rect x="1151" y="84" width="5" height="14" fill="#5b130c"/><rect x="1152" y="85" width="3" height="12" fill="#e2574a"/><rect x="1160" y="109" width="1" height="22" fill="#666"/><rect x="1158" y="109" width="5" height="17" fill="#5b130c"/><rect x="1159" y="110" width="3" height="15" fill="#e2574a"/><rect x="1166" y="82" width="1" height="21" fill="#666"/><rect x="1164" y="96" width="5" height="6" fill="#5b130c"/><rect x="1165" y="97" width="3" height="4" fill="#e2574a"/><rect x="1173" y="94" width="1" height="31" fill="#666"/><rect x="1171" y="95" width="5" height="18" fill="#1f5a36"/><rect x="1172" y="96" width="3" height="16" fill="#6fae8d"/><rect x="1180" y="65" width="1" height="34" fill="#666"/><rect x="1178" y="67" width="5" height="23" fill="#1f5a36"/><rect x="1179" y="68" width="3" height="21" fill="#6fae8d"/><rect x="1186" y="36" width="1" height="20" fill="#666"/><rect x="1184" y="40" width="5" height="16" fill="#5b130c"/><rect x="1185" y="41" width="3" height="14" fill="#e2574a"/><rect x="1193" y="47" width="1" height="16" fill="#666"/><rect x="1191" y="53" width="5" height="6" fill="#1f5a36"/><rect x="1192" y="54" width="3" height="4" fill="#6fae8d"/><rect x="1200" y="53" width="1" height="20" fill="#666"/><rect x="1198" y="62" width="5" height="9" fill="#1f5a36"/><rect x="1199" y="63" width="3" height="7" fill="#6fae8d"/><rect x="1206" y="48" width="1" height="24" fill="#666"/><rect x="1204" y="55" width="5" height="17" fill="#5b130c"/><rect x="1205" y="56" width="3" height="15" fill="#e2574a"/><rect x="1213" y="53" width="1" height="23" fill="#666"/><rect x="1211" y="53" width="5" height="8" fill="#5b130c"/><rect x="1212" y="54" width="3" height="6" fill="#e2574a"/><rect x="1220" y="57" width="1" height="11" fill="#666"/><rect x="1218" y="63" width="5" height="3" fill="#5b130c"/><rect x="1219" y="64" width="3" height="1" fill="#e2574a"/><rect x="1226" y="46" width="1" height="25" fill="#666"/><rect x="1224" y="59" width="5" height="3" fill="#1f5a36"/><rect x="1225" y="60" width="3" height="1" fill="#6fae8d"/><rect x="1233" y="82" width="1" height="17" fill="#666"/><rect x="1231" y="83" width="5" height="7" fill="#1f5a36"/><rect x="1232" y="84" width="3" height="5" fill="#6fae8d"/><rect x="1240" y="67" width="1" height="25" fill="#666"/><rect x="1238" y="77" width="5" height="15" fill="#1f5a36"/><rect x="1239" y="78" width="3" height="13" fill="#6fae8d"/><rect x="1246" y="50" width="1" height="67" fill="#666"/><rect x="1244" y="54" width="5" height="63" fill="#5b130c"/><rect x="1245" y="55" width="3" height="61" fill="#e2574a"/><rect x="1253" y="72" width="1" height="38" fill="#666"/><rect x="1251" y="84" width="5" height="24" fill="#1f5a36"/><rect x="1252" y="85" width="3" height="22" fill="#6fae8d"/><rect x="1260" y="75" width="1" height="17" fill="#666"/><rect x="1258" y="81" width="5" height="5" fill="#5b130c"/><rect x="1259" y="82" width="3" height="3" fill="#e2574a"/><rect x="1266" y="71" width="1" height="32" fill="#666"/><rect x="1264" y="74" width="5" height="3" fill="#5b130c"/><rect x="1265" y="75" width="3" height="1" fill="#e2574a"/><rect x="1273" y="94" width="1" height="14" fill="#666"/><rect x="1271" y="99" width="5" height="7" fill="#1f5a36"/><rect x="1272" y="100" width="3" height="5" fill="#6fae8d"/><rect x="1279" y="53" width="1" height="46" fill="#666"/><rect x="1277" y="57" width="5" height="31" fill="#1f5a36"/><rect x="1278" y="58" width="3" height="29" fill="#6fae8d"/><rect x="1286" y="77" width="1" height="29" fill="#666"/><rect x="1284" y="83" width="5" height="17" fill="#5b130c"/><rect x="1285" y="84" width="3" height="15" fill="#e2574a"/><rect x="1293" y="79" width="1" height="63" fill="#666"/><rect x="1291" y="80" width="5" height="59" fill="#5b130c"/><rect x="1292" y="81" width="3" height="57" fill="#e2574a"/><rect x="1299" y="124" width="1" height="20" fill="#666"/><rect x="1297" y="138" width="5" height="4" fill="#1f5a36"/><rect x="1298" y="139" width="3" height="2" fill="#6fae8d"/><rect x="1306" y="128" width="1" height="44" fill="#666"/><rect x="1304" y="128" width="5" height="41" fill="#5b130c"/><rect x="1305" y="129" width="3" height="39" fill="#e2574a"/><rect x="1313" y="156" width="1" height="28" fill="#666"/><rect x="1311" y="165" width="5" height="16" fill="#5b130c"/><rect x="1312" y="166" width="3" height="14" fill="#e2574a"/><rect x="1319" y="185" width="1" height="53" fill="#666"/><rect x="1317" y="189" width="5" height="40" fill="#5b130c"/><rect x="1318" y="190" width="3" height="38" fill="#e2574a"/><rect x="1326" y="193" width="1" height="40" fill="#666"/><rect x="1324" y="207" width="5" height="7" fill="#1f5a36"/><rect x="1325" y="208" width="3" height="5" fill="#6fae8d"/><rect x="1333" y="165" width="1" height="32" fill="#666"/><rect x="1331" y="171" width="5" height="23" fill="#1f5a36"/><rect x="1332" y="172" width="3" height="21" fill="#6fae8d"/><rect x="1339" y="146" width="1" height="30" fill="#666"/><rect x="1337" y="151" width="5" height="13" fill="#5b130c"/><rect x="1338" y="152" width="3" height="11" fill="#e2574a"/><rect x="1346" y="170" width="1" height="41" fill="#666"/><rect x="1344" y="176" width="5" height="32" fill="#1f5a36"/><rect x="1345" y="177" width="3" height="30" fill="#6fae8d"/><rect x="1353" y="130" width="1" height="32" fill="#666"/><rect x="1351" y="137" width="5" height="21" fill="#1f5a36"/><rect x="1352" y="138" width="3" height="19" fill="#6fae8d"/><rect x="1359" y="123" width="1" height="21" fill="#666"/><rect x="1357" y="126" width="5" height="4" fill="#5b130c"/><rect x="1358" y="127" width="3" height="2" fill="#e2574a"/><rect x="1366" y="130" width="1" height="45" fill="#666"/><rect x="1364" y="137" width="5" height="38" fill="#5b130c"/><rect x="1365" y="138" width="3" height="36" fill="#e2574a"/><rect x="1373" y="144" width="1" height="52" fill="#666"/><rect x="1371" y="183" width="5" height="8" fill="#5b130c"/><rect x="1372" y="184" width="3" height="6" fill="#e2574a"/><rect x="1379" y="157" width="1" height="37" fill="#666"/><rect x="1377" y="161" width="5" height="9" fill="#1f5a36"/><rect x="1378" y="162" width="3" height="7" fill="#6fae8d"/><rect x="1386" y="109" width="1" height="19" fill="#666"/><rect x="1384" y="115" width="5" height="6" fill="#1f5a36"/><rect x="1385" y="116" width="3" height="4" fill="#6fae8d"/></g><g stroke="#4a4a4a" stroke-width="1" shape-rendering="crispEdges"><line x1="1461.5" y1="3" x2="1461.5" y2="832"/><line x1="4" y1="804.5" x2="1527" y2="804.5"/></g><g font-family="'Liberation Sans',sans-serif" font-size="11.6" fill="#444"><text x="1470" y="69.7" textLength="47.5" lengthAdjust="spacingAndGlyphs">18250.00</text><text x="1470" y="103.6" textLength="47.5" lengthAdjust="spacingAndGlyphs">18000.00</text><text x="1470" y="137.4" textLength="47.5" lengthAdjust="spacingAndGlyphs">17750.00</text><text x="1470" y="171.3" textLength="47.5" lengthAdjust="spacingAndGlyphs">17500.00</text><text x="1470" y="205.1" textLength="47.5" lengthAdjust="spacingAndGlyphs">17250.00</text><text x="1470" y="239.0" textLength="47.5" lengthAdjust="spacingAndGlyphs">17000.00</text><text x="1470" y="306.7" textLength="47.5" lengthAdjust="spacingAndGlyphs">16500.00</text><text x="1470" y="340.5" textLength="47.5" lengthAdjust="spacingAndGlyphs">16250.00</text><text x="1470" y="374.4" textLength="47.5" lengthAdjust="spacingAndGlyphs">16000.00</text><text x="1470" y="408.2" textLength="47.5" lengthAdjust="spacingAndGlyphs">15750.00</text><text x="1470" y="442.1" textLength="47.5" lengthAdjust="spacingAndGlyphs">15500.00</text><text x="1470" y="509.8" textLength="47.5" lengthAdjust="spacingAndGlyphs">15000.00</text><text x="1470" y="543.6" textLength="47.5" lengthAdjust="spacingAndGlyphs">14750.00</text><text x="1470" y="577.4" textLength="47.5" lengthAdjust="spacingAndGlyphs">14500.00</text><text x="1470" y="611.3" textLength="47.5" lengthAdjust="spacingAndGlyphs">14250.00</text><text x="1470" y="645.1" textLength="47.5" lengthAdjust="spacingAndGlyphs">14000.00</text><text x="1469.5" y="700.8" textLength="35" lengthAdjust="spacingAndGlyphs">200.00</text><text x="1469.5" y="733.9" textLength="35" lengthAdjust="spacingAndGlyphs">200.00</text><text x="1469.5" y="764.3" textLength="23" lengthAdjust="spacingAndGlyphs">0.00</text><text x="1470" y="794.5" textLength="42" lengthAdjust="spacingAndGlyphs">−200.00</text></g><path d="M1461 257.8 H1521 a2 2 0 0 1 2 2 V272.8 a2 2 0 0 1 -2 2 H1461 Z" fill="#000"/><text x="1469.5" y="270.6" font-family="'Liberation Sans',sans-serif" font-size="12" font-weight="bold" fill="#fff" textLength="48" lengthAdjust="spacingAndGlyphs">16764.86</text><path d="M1461 279.8 H1521 a2 2 0 0 1 2 2 V294.8 a2 2 0 0 1 -2 2 H1461 Z" fill="#000"/><text x="1469.5" y="292.6" font-family="'Liberation Sans',sans-serif" font-size="12" font-weight="bold" fill="#fff" textLength="48" lengthAdjust="spacingAndGlyphs">16602.92</text><path d="M1461 369.0 H1521 a2 2 0 0 1 2 2 V384.0 a2 2 0 0 1 -2 2 H1461 Z" fill="#000"/><text x="1469.5" y="381.8" font-family="'Liberation Sans',sans-serif" font-size="12" font-weight="bold" fill="#fff" textLength="48" lengthAdjust="spacingAndGlyphs">15948.63</text><path d="M1461 462.3 H1521 a2 2 0 0 1 2 2 V477.3 a2 2 0 0 1 -2 2 H1461 Z" fill="#2962ff"/><text x="1469.5" y="475.1" font-family="'Liberation Sans',sans-serif" font-size="12" font-weight="bold" fill="#fff" textLength="48" lengthAdjust="spacingAndGlyphs">15261.12</text><g fill="#131722" stroke="#fff" stroke-width="2" paint-order="stroke"><path d="M16 775 H28 V790 H22 V781 H16 Z"/><circle cx="33" cy="778.3" r="2.9"/><path d="M39.2 775 H46 L39.8 790 H33 Z"/></g></svg>
<svg width="1530" height="834" viewBox="0 0 1530 834" style="position:absolute;left:0;top:0">
<g font-family="'Noto Sans CJK SC','WenQuanYi Zen Hei',sans-serif" font-size="57" font-weight="700" font-style="italic" transform="translate(1276.5 0) scale(1.09 1)">
<text x="2.1 57.6 113.1 168.6" y="790.8" fill="#555" stroke="#555" stroke-width="1.3" opacity="0.62" style="filter:blur(0.7px)">海马财经</text>
<text id="wm1" x="0 55.5 111 166.5" y="788.5" fill="#fff" stroke="#fff" stroke-width="1.3" opacity="0.93">海马财经</text>
</g>
<g transform="translate(0 828.3) scale(1.16 1)"><text id="wm2" x="1116.5 1139.9 1164.1 1184.8 1202.8 1228.6 1251.7 1269.1 1291.8" y="0" font-family="'Liberation Sans',sans-serif" font-size="31" font-weight="bold" font-style="italic" fill="#8ccdfd" stroke="#8ccdfd" stroke-width="0.9" style="filter:drop-shadow(2px 2px 0.4px rgba(125,135,175,.9))">zzrt01.cn</text></g>
</svg>
<svg width="1530" height="834" viewBox="0 0 1530 834" style="position:absolute;left:0;top:0" font-family="'Liberation Sans',sans-serif"><g fill="#fff" fill-opacity="0.6"><rect x="12" y="678" width="116" height="15"/><rect x="12" y="720" width="145" height="15"/></g><circle cx="22" cy="19" r="9" fill="#0a8fb8"/><text x="14.7" y="21.8" font-size="8.2" fill="#fff" textLength="14.6" lengthAdjust="spacingAndGlyphs" font-weight="bold">100</text><text y="24.8" font-size="15.9" fill="#474747"><tspan x="35.8" textLength="90.8" lengthAdjust="spacingAndGlyphs">US 100 Index</tspan><tspan x="129.7">·</tspan><tspan x="139.3" textLength="16.8" lengthAdjust="spacingAndGlyphs">1D</tspan><tspan x="159.9">·</tspan><tspan x="169.8" textLength="26.6" lengthAdjust="spacingAndGlyphs">TVC</tspan></text><circle cx="221" cy="19" r="9" fill="#f0f1f3"/><rect x="216" y="17" width="10" height="4" rx="2" fill="#9a9c9b"/><text x="246.4" y="24.1" font-size="13.2" textLength="61.9" lengthAdjust="spacingAndGlyphs"><tspan fill="#555">O</tspan><tspan fill="#2a6546">17848.66</tspan></text><text x="314.9" y="24.1" font-size="13.2" textLength="61.1" lengthAdjust="spacingAndGlyphs"><tspan fill="#555">H</tspan><tspan fill="#2a6546">17926.98</tspan></text><text x="382.8" y="24.1" font-size="13.2" textLength="59.4" lengthAdjust="spacingAndGlyphs"><tspan fill="#555">L</tspan><tspan fill="#2a6546">17784.78</tspan></text><text x="448.9" y="24.1" font-size="13.2" textLength="60.7" lengthAdjust="spacingAndGlyphs"><tspan fill="#555">C</tspan><tspan fill="#2a6546">17890.80</tspan></text><text x="516.3" y="24.1" font-size="13.2" fill="#2a6546" textLength="44.6" lengthAdjust="spacingAndGlyphs">+349.25</text><text x="566.2" y="24.1" font-size="13.2" fill="#2a6546" textLength="48.2" lengthAdjust="spacingAndGlyphs">(+1.99%)</text><rect x="12.5" y="35.5" width="68" height="23" rx="4" fill="#fff" stroke="#f23645"/><text x="20.8" y="51.8" font-size="12.5" fill="#f23645" textLength="51.4" lengthAdjust="spacingAndGlyphs">17890.80</text><text x="88.7" y="51.8" font-size="12.5" fill="#131722" textLength="20.8" lengthAdjust="spacingAndGlyphs">0.00</text><rect x="118.5" y="35.5" width="67" height="23" rx="4" fill="#fff" stroke="#2962ff"/><text x="126.3" y="51.8" font-size="12.5" fill="#2962ff" textLength="51.4" lengthAdjust="spacingAndGlyphs">17890.80</text><text x="13.1" y="79.8" font-size="12.5" fill="#555" textLength="382.9" lengthAdjust="spacingAndGlyphs">MA Ribbon SMA close 20 SMA close 50 SMA close 100 SMA close 200</text><text x="405" y="79.8" font-size="12.5" fill="#f23645" textLength="51.4" lengthAdjust="spacingAndGlyphs">17663.58</text><text x="463.3" y="79.8" font-size="12.5" fill="#2962ff" textLength="51.8" lengthAdjust="spacingAndGlyphs">17927.16</text><text x="521.2" y="79.8" font-size="12.5" fill="#444" textLength="8.0" lengthAdjust="spacingAndGlyphs">∅</text><text x="536" y="79.8" font-size="12.5" fill="#131722" textLength="51.3" lengthAdjust="spacingAndGlyphs">16372.66</text><rect x="13.5" y="89.5" width="28" height="20" rx="3.5" fill="#fff" stroke="#d3d7e3"/><path d="M23.4 101.6 L27.5 97.5 L31.6 101.6" fill="none" stroke="#1a1a1a" stroke-width="1.5"/><rect x="1465.5" y="7.5" width="57" height="25" rx="4.5" fill="#fff" stroke="#e0e3eb"/><text x="1469.2" y="24" font-size="13.2" fill="#131722" textLength="20.8" lengthAdjust="spacingAndGlyphs">USD</text><path d="M1512.8 19.3 L1515.5 22 L1518.2 19.3" fill="none" stroke="#131722" stroke-width="1.4"/><text x="13.3" y="688.7" font-size="12.1" fill="#555" textLength="66.7" lengthAdjust="spacingAndGlyphs">ATR 14 RMA</text><text x="88.9" y="688.7" font-size="12.1" fill="#b22833" textLength="38.0" lengthAdjust="spacingAndGlyphs">291.20</text><text x="13.3" y="730.4" font-size="12.1" fill="#555" textLength="101.1" lengthAdjust="spacingAndGlyphs">CCI 20 hlc3 SMA 5</text><text x="122.9" y="730.4" font-size="12.1" fill="#2962ff" textLength="32.1" lengthAdjust="spacingAndGlyphs">49.46</text><g font-family="'Liberation Sans',sans-serif" font-size="12.3" fill="#444" text-anchor="middle"><text x="116.2" y="822" textLength="20.4" lengthAdjust="spacingAndGlyphs">Aug</text><text x="269.2" y="822" textLength="19.5" lengthAdjust="spacingAndGlyphs">Sep</text><text x="402.2" y="822" textLength="19.3" lengthAdjust="spacingAndGlyphs">Oct</text><text x="548.2" y="822" textLength="20.3" lengthAdjust="spacingAndGlyphs">Nov</text><text x="688.2" y="822" textLength="19.6" lengthAdjust="spacingAndGlyphs">Dec</text><text x="821.2" y="822" font-weight="bold" textLength="27.3" lengthAdjust="spacingAndGlyphs">2024</text><text x="960.2" y="822" textLength="20.2" lengthAdjust="spacingAndGlyphs">Feb</text><text x="1093.2" y="822" textLength="20.5" lengthAdjust="spacingAndGlyphs">Mar</text><text x="1226.2" y="822" textLength="19.0" lengthAdjust="spacingAndGlyphs">Apr</text><text x="1373.2" y="822" fill="#7a7a7a" textLength="22.0" lengthAdjust="spacingAndGlyphs">May</text></g><g fill="#fff" stroke="#1c1c1c" stroke-width="1.25" stroke-linejoin="round"><path d="M1491.3 812.4 h6.4 q0.6 0 0.9 0.5 l2.9 5 q0.3 0.5 0 1 l-2.9 5 q-0.3 0.5 -0.9 0.5 h-6.4 q-0.6 0 -0.9 -0.5 l-2.9 -5 q-0.3 -0.5 0 -1 l2.9 -5 q0.3 -0.5 0.9 -0.5 z"/><circle cx="1494.5" cy="818.4" r="2.1"/></g></svg>
</body></html>
